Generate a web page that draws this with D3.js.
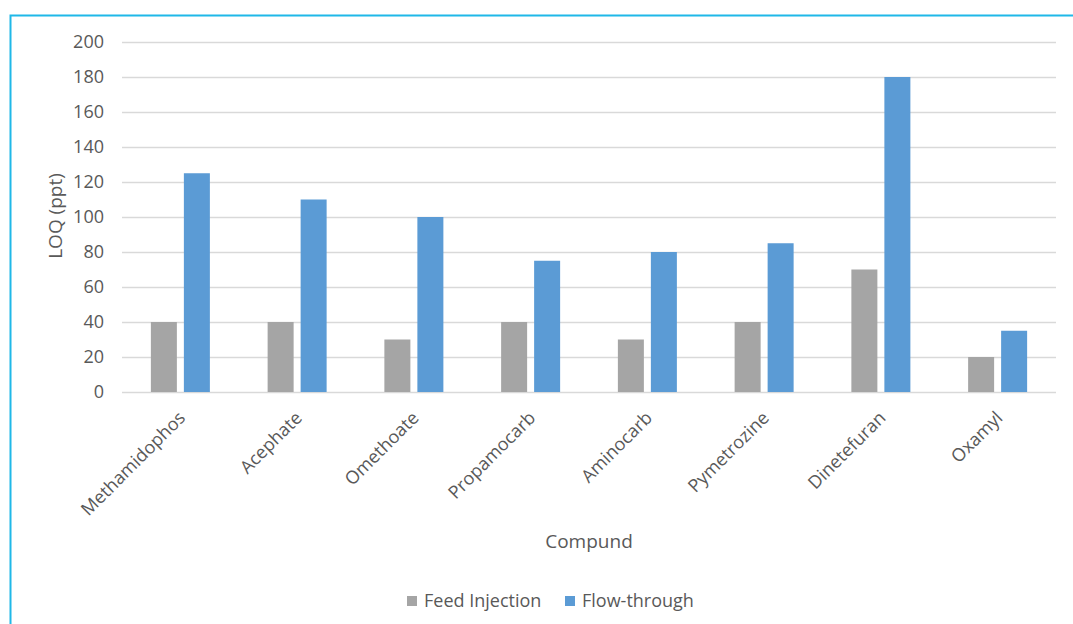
<!DOCTYPE html>
<html>
<head>
<meta charset="utf-8">
<script src="https://cdn.jsdelivr.net/npm/d3@7"></script>
<style>
  body { margin: 0; background: #fff; }
  svg text { font-family: "Open Sans", Lato, sans-serif; fill: #595959; }
</style>
</head>
<body>
<svg id="chart" width="1073" height="624"></svg>
<script>
var compounds = ["Methamidophos", "Acephate", "Omethoate", "Propamocarb", "Aminocarb", "Pymetrozine", "Dinetefuran", "Oxamyl"];
var series = ["Feed Injection", "Flow-through"];
var feedInjection = [40, 40, 30, 40, 30, 40, 70, 20];
var flowThrough = [125, 110, 100, 75, 80, 85, 180, 35];
var yTicks = [0, 20, 40, 60, 80, 100, 120, 140, 160, 180, 200];
var colors = ["#a5a5a5", "#5b9bd5"];

var svg = d3.select("#chart");

// frame border (runs off the right/bottom edges)
svg.append("rect")
    .attr("x", 10.5).attr("y", 15.5)
    .attr("width", 1100).attr("height", 700)
    .attr("fill", "none").attr("stroke", "#1fb8e8").attr("stroke-width", 2);

var plotLeft = 122, plotRight = 1056, plotTop = 42, plotBottom = 392;

var y = d3.scaleLinear().domain([0, 200]).range([plotBottom, plotTop]);
var x0 = d3.scaleBand().domain(compounds).range([plotLeft, plotRight]);
var x1 = d3.scaleBand().domain(series)
    .range([x0.bandwidth() / 2 - 29.5, x0.bandwidth() / 2 + 29.5])
    .paddingInner(7 / 33);

// gridlines
svg.append("g").selectAll("line")
    .data(yTicks).enter().append("line")
    .attr("x1", plotLeft).attr("x2", plotRight)
    .attr("y1", d => Math.round(y(d)) + 0.5).attr("y2", d => Math.round(y(d)) + 0.5)
    .attr("stroke", "#d9d9d9").attr("stroke-width", 1.5);

// y axis labels
var yAxis = svg.append("g")
    .attr("transform", "translate(" + (plotLeft - 8) + ",0)")
    .call(d3.axisLeft(y).tickValues(yTicks).tickSize(0).tickPadding(10));
yAxis.select(".domain").remove();
yAxis.selectAll("text").style("font-size", "18px").attr("fill", "#595959");

// bars
var rows = compounds.map((c, i) => ({ name: c, vals: [feedInjection[i], flowThrough[i]] }));
svg.append("g").selectAll("g")
    .data(rows).enter().append("g")
    .attr("transform", d => "translate(" + x0(d.name) + ",0)")
    .selectAll("rect")
    .data(d => d.vals.map((v, j) => ({ s: series[j], v: v, j: j })))
    .enter().append("rect")
    .attr("x", d => x1(d.s))
    .attr("y", d => y(d.v))
    .attr("width", x1.bandwidth())
    .attr("height", d => plotBottom - y(d.v))
    .attr("fill", d => colors[d.j]);

// x category labels
var xAxis = svg.append("g")
    .attr("transform", "translate(0," + plotBottom + ")")
    .call(d3.axisBottom(x0).tickSize(0).tickPadding(0));
xAxis.select(".domain").remove();
xAxis.selectAll("text")
    .style("font-size", "18px")
    .attr("fill", "#595959")
    .attr("text-anchor", "end")
    .attr("dy", null)
    .attr("transform", "translate(6,27) rotate(-45)");

// axis titles
svg.append("text")
    .attr("transform", "translate(62,216) rotate(-90)")
    .attr("text-anchor", "middle")
    .style("font-size", "19px")
    .text("LOQ (ppt)");

svg.append("text")
    .attr("x", 589).attr("y", 548)
    .attr("text-anchor", "middle")
    .style("font-size", "19px")
    .text("Compund");

// legend
var legend = svg.append("g").selectAll("g")
    .data(series).enter().append("g")
    .attr("transform", (d, i) => "translate(" + [407, 565][i] + ",596)");
legend.append("rect")
    .attr("width", 10).attr("height", 10)
    .attr("fill", (d, i) => colors[i]);
legend.append("text")
    .attr("x", 17).attr("y", 11)
    .style("font-size", "18px")
    .text(d => d);
</script>
</body>
</html>
